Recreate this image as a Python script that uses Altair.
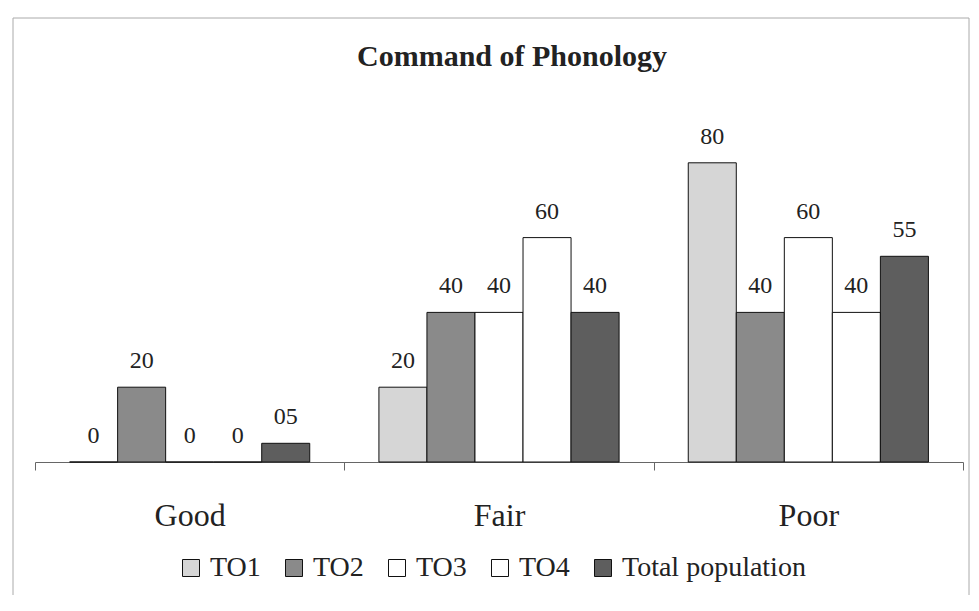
import altair as alt
import pandas as pd

title_text = "Command of Phonology"
categories = ["Good", "Fair", "Poor"]
series = ["TO1", "TO2", "TO3", "TO4", "Total population"]
values = {
    "Good": [0, 20, 0, 0, 5],
    "Fair": [20, 40, 40, 60, 40],
    "Poor": [80, 40, 60, 40, 55],
}
labels = {
    "Good": ["0", "20", "0", "0", "05"],
    "Fair": ["20", "40", "40", "60", "40"],
    "Poor": ["80", "40", "60", "40", "55"],
}
colors = ["#d6d6d6", "#8a8a8a", "#ffffff", "#ffffff", "#5e5e5e"]

rows = []
for c in categories:
    for i, s in enumerate(series):
        rows.append({"category": c, "series": s, "value": values[c][i], "label": labels[c][i]})
df = pd.DataFrame(rows)

FONT = "Liberation Serif"

x = alt.X("category:N", sort=categories, title=None,
          scale=alt.Scale(paddingInner=0, paddingOuter=0),
          axis=alt.Axis(labelAngle=0, labelFont=FONT, labelFontSize=32, labelColor="#222",
                        labelPadding=30, tickBand="extent", tickSize=8, tickColor="#666",
                        domainColor="#666", grid=False))
xo = alt.XOffset("series:N", sort=series, scale=alt.Scale(paddingInner=0, paddingOuter=0.72))
y = alt.Y("value:Q", scale=alt.Scale(domain=[0, 100]), axis=None)

bars = alt.Chart(df).mark_bar(stroke="#111", strokeWidth=1).encode(
    x=x, xOffset=xo, y=y,
    fill=alt.Fill("series:N", sort=series,
                  scale=alt.Scale(domain=series, range=colors),
                  legend=alt.Legend(orient="none", legendX=142, legendY=466,
                                    direction="horizontal", title=None, padding=0,
                                    symbolType="square", symbolSize=289, symbolStrokeColor="#111",
                                    symbolStrokeWidth=1, labelFont=FONT, labelFontSize=28,
                                    labelColor="#222", columnPadding=19, labelOffset=5,
                                    symbolOffset=0, labelLimit=300)),
)

text = alt.Chart(df).mark_text(font=FONT, fontSize=24, baseline="alphabetic", dy=-19, color="#222").encode(
    x=x, xOffset=xo, y=y, text="label:N"
)

frame = alt.Chart(alt.Data(values=[{}])).mark_rect(fillOpacity=0, stroke="#aaaaaa", strokeWidth=1).encode(
    x=alt.value(-22), x2=alt.value(934), y=alt.value(-70), y2=alt.value(508)
)

title = alt.Chart(alt.Data(values=[{"t": title_text}])).mark_text(
    font=FONT, fontSize=30, fontWeight="bold", color="#222", baseline="alphabetic", align="center"
).encode(x=alt.value(477), y=alt.value(-22), text="t:N")

chart = alt.layer(frame, title, bars, text).properties(
    width=928, height=374,
    autosize=alt.AutoSizeParams(type="none"),
    padding={"left": 27, "top": 80, "right": 8, "bottom": 133},
).configure(font=FONT).configure_view(stroke=None)

chart.save("out.html", embed_options={"renderer": "svg", "actions": False})
